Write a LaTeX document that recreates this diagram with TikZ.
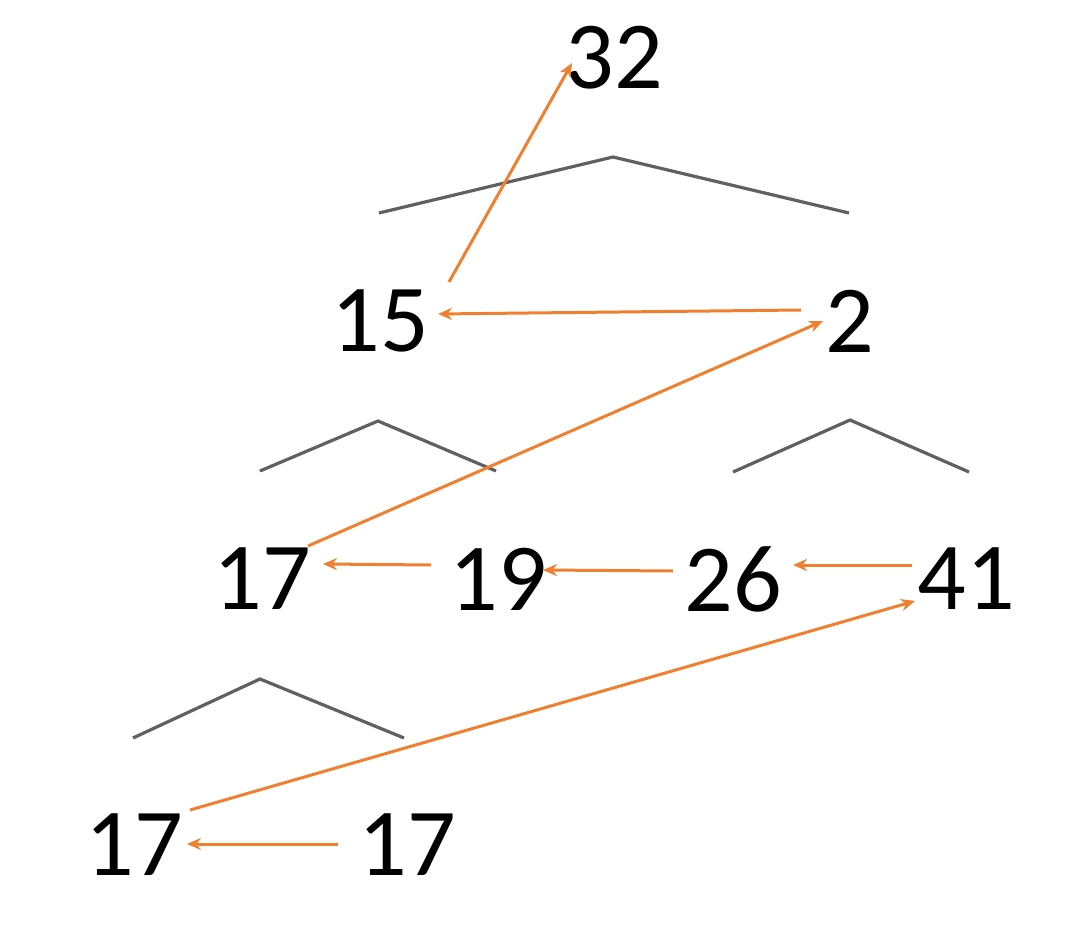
\documentclass[tikz,border=0pt]{standalone}
\usepackage{fontspec}
\setmainfont{Carlito}
\usetikzlibrary{arrows.meta,calc}
\definecolor{linkorange}{RGB}{240,128,48}
\definecolor{treegray}{RGB}{96,96,96}
\tikzset{
     num/.style = { font=\fontsize{48}{56}\selectfont, inner sep=0pt, anchor=center },
   arrow/.style = { line width=1.5pt, color=linkorange, -{Stealth[length=7pt,width=6pt]} },
  branch/.style = { line width=1.6pt, color=treegray, line join=miter }
}
\begin{document}
\begin{tikzpicture}[x=0.5pt, y=-0.5pt]
  \useasboundingbox (0,0) rectangle (1088,952);

  % keys
  \node[num] (n32)  at (614,58)  {32};
  \node[num] (n15)  at (380,321) {15};
  \node[num] (n2)   at (850,321) {2};
  \node[num] (n17a) at (262,579) {17};
  \node[num] (n19)  at (498,579) {19};
  \node[num] (n26)  at (733,579) {26};
  \node[num] (n41)  at (966,579) {41};
  \node[num] (n17b) at (134,845) {17};
  \node[num] (n17c) at (407,845) {17};

  % tree branches
  \draw [branch] (379,213) -- (613,157) -- (849,213);
  \draw [branch] (260,471) -- (378,421) -- (496,471);
  \draw [branch] (733,472) -- (850,420) -- (969,472);
  \draw [branch] (133,738) -- (260,679) -- (404,738);

  % links
  \draw [arrow] ($(n15)+(69,-39)$)  -- ($(n32)+(-42,5)$);
  \draw [arrow] ($(n2)+(-49,-11)$)  -- ($(n15)+(58,-7)$);
  \draw [arrow] ($(n17a)+(46,-33)$) -- ($(n2)+(-27,0)$);
  \draw [arrow] ($(n19)+(-67,-14)$) -- ($(n17a)+(61,-15)$);
  \draw [arrow] ($(n26)+(-60,-8)$)  -- ($(n19)+(45,-9)$);
  \draw [arrow] ($(n41)+(-54,-14)$) -- ($(n26)+(60,-14)$);
  \draw [arrow] ($(n17b)+(56,-35)$) -- ($(n41)+(-51,22)$);
  \draw [arrow] ($(n17c)+(-69,-1)$) -- ($(n17b)+(53,-1)$);

\end{tikzpicture}
\end{document}
